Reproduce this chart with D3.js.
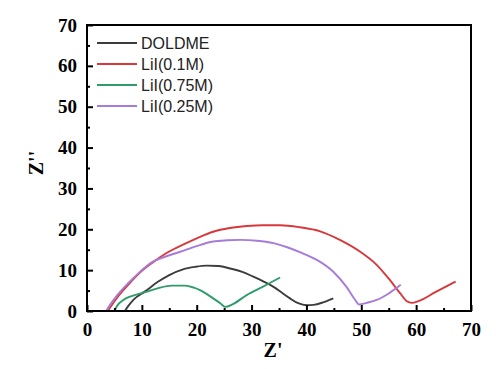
<!DOCTYPE html>
<html><head><meta charset="utf-8">
<script src="https://cdn.jsdelivr.net/npm/d3@7"></script>
<style>html,body{margin:0;padding:0;background:#fff;}</style>
</head><body>
<svg id="c" width="496" height="369"></svg>
<script>
const seriesNames = ["DOLDME", "LiI(0.1M)", "LiI(0.75M)", "LiI(0.25M)"];
const seriesColors = ["#3c3c3c", "#d8383c", "#2e9c6a", "#a77bd8"];
const xTicks = [0, 10, 20, 30, 40, 50, 60, 70];
const yTicks = [0, 10, 20, 30, 40, 50, 60, 70];

const doldmeX = [6.9, 7.5, 8.5, 10.6, 13, 15, 17.5, 19.7, 21.8, 24, 26.1, 28.3, 30.3, 32.2, 34, 35.6, 37, 38.5, 40, 41.3, 43, 44.9];
const doldmeY = [0, 1.2, 2.8, 4.8, 7.2, 8.8, 10.2, 10.8, 11.1, 11.0, 10.4, 9.6, 8.4, 7.2, 5.9, 4.4, 3.1, 1.9, 1.4, 1.5, 2.1, 3.1];

const li01X = [3.8, 4.5, 5.8, 7.5, 9.5, 11.8, 14.5, 17.9, 20.5, 23, 26, 29.1, 32, 35.2, 38.8, 42.5, 46.1, 49.8, 52.8, 55.2, 57.1, 58.3, 59.2, 60.4, 63.5, 67.2];
const li01Y = [0, 1.4, 3.8, 6.4, 9.2, 11.7, 14.2, 16.5, 18.1, 19.4, 20.3, 20.8, 21.0, 21.0, 20.5, 19.5, 17.4, 14.5, 11.3, 7.6, 4.3, 2.4, 2.0, 2.4, 4.6, 7.2];

const li075X = [5.0, 5.5, 6.5, 8, 10.6, 13, 15.5, 17.9, 19.5, 20.6, 23, 24.3, 25.2, 26.5, 29.1, 32, 35.2];
const li075Y = [0, 1.3, 2.6, 3.6, 4.6, 5.6, 6.2, 6.2, 5.7, 5.1, 3.1, 1.9, 1.0, 1.6, 3.9, 5.9, 8.2];

const li025X = [3.5, 4.2, 5.6, 7.5, 9.5, 11.8, 14.5, 17, 20, 23, 25.5, 27.9, 31, 34, 36.5, 38.8, 41.9, 44.9, 47.3, 48.9, 49.6, 51, 52.8, 55, 57.2];
const li025Y = [0, 1.5, 4.0, 6.8, 9.4, 11.9, 13.4, 14.5, 15.9, 17.0, 17.3, 17.4, 17.2, 16.6, 15.6, 14.4, 12.5, 9.6, 5.9, 2.7, 1.6, 2.0, 2.7, 4.3, 6.4];

const seriesX = [doldmeX, li01X, li075X, li025X];
const seriesY = [doldmeY, li01Y, li075Y, li025Y];

const svg = d3.select("#c");
const L = 87, R = 471, T = 25, B = 311;
const x = d3.scaleLinear().domain([0, 70]).range([L, R]);
const y = d3.scaleLinear().domain([0, 70]).range([B, T]);

const line = d3.line().x(d => x(d[0])).y(d => y(d[1])).curve(d3.curveMonotoneX);

const g = svg.append("g");
seriesX.forEach((xs, i) => {
  const pts = xs.map((v, j) => [v, seriesY[i][j]]);
  g.append("path").attr("d", line(pts)).attr("fill", "none")
    .attr("stroke", seriesColors[i]).attr("stroke-width", 1.9)
    .attr("stroke-linejoin", "round");
});

// box
svg.append("rect").attr("x", L).attr("y", T).attr("width", R - L).attr("height", B - T)
  .attr("fill", "none").attr("stroke", "#000").attr("stroke-width", 2);

const minor = d3.range(5, 70, 10);
const xAxis = d3.axisBottom(x).tickValues(xTicks).tickSize(-6).tickPadding(12).tickFormat(d3.format("d"));
const yAxis = d3.axisLeft(y).tickValues(yTicks).tickSize(-6).tickPadding(10).tickFormat(d3.format("d"));
const ax = svg.append("g").attr("transform", `translate(0,${B})`).call(xAxis);
const ay = svg.append("g").attr("transform", `translate(${L},0)`).call(yAxis);
svg.append("g").attr("transform", `translate(0,${B})`).call(d3.axisBottom(x).tickValues(minor).tickSize(-3).tickFormat(""));
svg.append("g").attr("transform", `translate(${L},0)`).call(d3.axisLeft(y).tickValues(minor).tickSize(-3).tickFormat(""));
svg.selectAll(".domain").remove();
svg.selectAll(".tick line").attr("stroke", "#000").attr("stroke-width", 2);
[ax, ay].forEach(a => a.selectAll("text")
  .attr("font-family", "'Liberation Serif', 'Times New Roman', serif")
  .attr("font-weight", "bold").attr("font-size", 19).attr("fill", "#000"));
ax.selectAll("text").attr("dy", "0.71em");

// axis titles
svg.append("text").attr("x", 273).attr("y", 357).attr("text-anchor", "middle")
  .attr("font-family", "'Liberation Serif', serif").attr("font-weight", "bold")
  .attr("font-size", 20).text("Z'");
svg.append("text").attr("transform", "translate(43,163) rotate(-90)").attr("text-anchor", "middle")
  .attr("font-family", "'Liberation Serif', serif").attr("font-weight", "bold")
  .attr("font-size", 20).text("Z''");

// legend
const leg = svg.append("g");
seriesNames.forEach((n, i) => {
  const yy = 43 + i * 21;
  leg.append("line").attr("x1", 97).attr("x2", 137).attr("y1", yy).attr("y2", yy)
    .attr("stroke", seriesColors[i]).attr("stroke-width", 1.8);
  leg.append("text").attr("x", 141).attr("y", yy).attr("dy", "0.36em")
    .attr("font-family", "'Liberation Sans', Arial, sans-serif").attr("font-size", 16)
    .attr("fill", "#222").text(n);
});
</script>
</body></html>
